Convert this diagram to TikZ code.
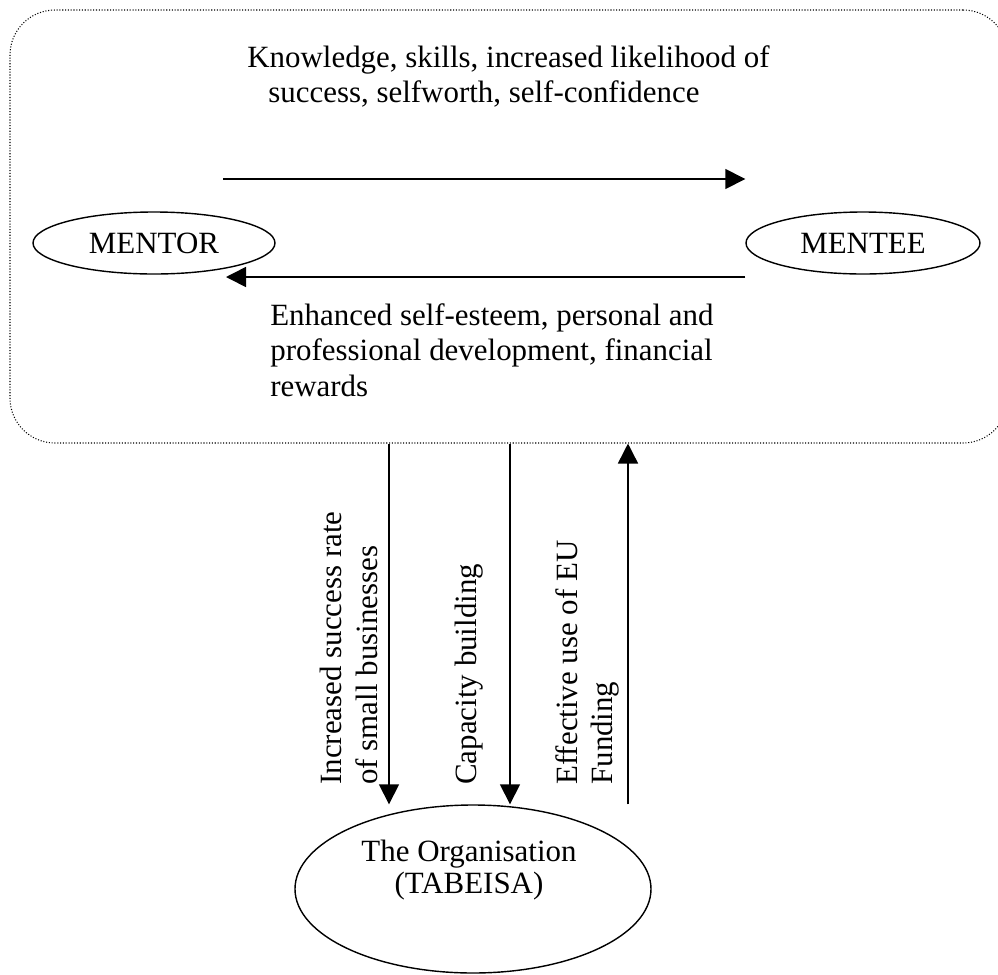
\documentclass[tikz,border=0pt]{standalone}
\usepackage{fontspec}
\setmainfont{Liberation Serif}
\usetikzlibrary{shapes.geometric,arrows.meta}

\begin{document}
\begin{tikzpicture}[
    font=\fontsize{17.6}{20.4}\selectfont,
    flow/.style={line width=0.9pt,-{Triangle[length=0.4cm,width=0.4cm]}},
    role/.style={draw,ellipse,line width=0.8pt,inner sep=0pt,minimum height=1.24cm},
    gain/.style={align=left,inner sep=0pt},
  ]
    \useasboundingbox (0,0) rectangle (19.96,-19.5);
    \node[draw,densely dotted,line width=0.6pt,rounded corners=0.9cm,minimum width=19.96cm,minimum height=8.66cm] (pair) at (10.18,-4.53) {}; %dotted frame
    \node[role,minimum width=4.84cm] (mentor) at (3.08,-4.86) {MENTOR};
    \node[role,minimum width=4.68cm] (mentee) at (17.26,-4.86) {MENTEE};
    \node[gain,anchor=north west] (know) at (4.94,-0.9) {Knowledge, skills, increased likelihood of\\\hspace*{0.42cm}success, selfworth, self-confidence};
    \node[gain,anchor=north west] (esteem) at (5.4,-6.06) {Enhanced self-esteem, personal and\\professional development, financial\\rewards};
    \coordinate (give) at (4.46,-3.58);
    \coordinate (back) at (4.52,-5.54);
    \draw[flow] (give) -- (give -| mentee.west);
    \draw[flow] (back -| mentee.west) -- (back);

    \node[role,minimum width=7.12cm,minimum height=3.36cm] (org) at (9.46,-17.78) {};
    \node[align=center,font=\fontsize{17.6}{18.1}\selectfont] (orgname) at (9.38,-17.4) {The Organisation\\(TABEISA)};
    \coordinate (x1) at (7.78,0);
    \coordinate (x2) at (10.2,0);
    \coordinate (x3) at (12.56,0);
    \draw[flow] (pair.south -| x1) -- (org.north -| x1);
    \draw[flow] (pair.south -| x2) -- (org.north -| x2);
    \draw[flow] (org.north -| x3) -- (pair.south -| x3);
    \node[gain,rotate=90,anchor=north west] (rate) at (6.4,-15.7) {Increased success rate\\of small businesses};
    \node[gain,rotate=90,anchor=north west] (capacity) at (9.1,-15.7) {Capacity building};
    \node[gain,rotate=90,anchor=north west] (funding) at (11.1,-15.7) {Effective use of EU\\Funding};
\end{tikzpicture}
\end{document}
